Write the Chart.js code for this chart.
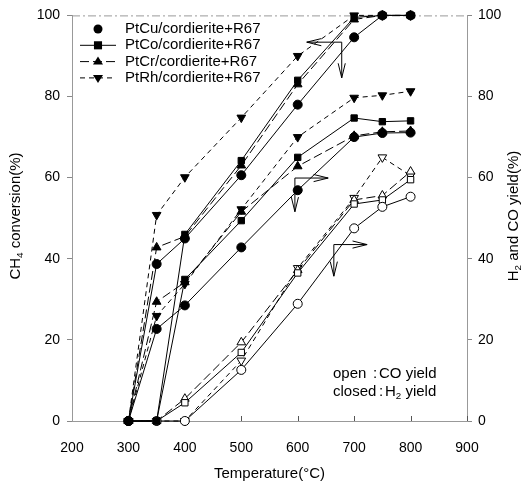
<!DOCTYPE html>
<html>
<head>
<meta charset="utf-8">
<script src="https://cdn.jsdelivr.net/npm/chart.js@4.4.1/dist/chart.umd.min.js"></script>
<style>
  html, body { margin: 0; padding: 0; background: #fff; }
</style>
</head>
<body>
<canvas id="chart" width="530" height="486"></canvas>
<script>
// values
var temps = [300, 350, 400, 500, 600, 700, 750, 800];
var catalysts = ['PtCu/cordierite+R67', 'PtCo/cordierite+R67', 'PtCr/cordierite+R67', 'PtRh/cordierite+R67'];

// CH4 conversion (left axis)
var ch4PtCu = [0, 38.7, 45, 60.6, 78, 94.6, 100, 100];
var ch4PtCo = [0, 0, 46, 64.2, 84, 99.5, 100, 100];
var ch4PtCr = [0, 42.8, 45.5, 63, 83, 99, 100, 100];
var ch4PtRh = [0, 50.8, 60.1, 74.8, 90, 100, 100, 100];
// H2 yield (right axis, closed)
var h2PtCu = [0, 22.7, 28.5, 42.8, 56.9, 70, 71, 71.1];
var h2PtCo = [0, 0, 34.9, 49.4, 65, 74.7, 73.8, 74];
var h2PtCr = [0, 29.4, 34.2, 51.6, 62.8, 70.3, 71.3, 71.5];
var h2PtRh = [0, 25.9, 33.8, 52.2, 70, 79.7, 80.3, 81.3];
// CO yield (right axis, open)
var coPtCu = [0, 0, 0, 12.6, 28.9, 47.5, 52.8, 55.3];
var coPtCo = [0, 0, 4.5, 16.9, 36.5, 53.5, 54.5, 59.5];
var coPtCr = [0, 0, 5.5, 19.4, 37.2, 54.5, 55.6, 61.5];
var coPtRh = [0, 0, 0, 14.9, 37.7, 55, 65, 60.5];

var xTicks = [200, 300, 400, 500, 600, 700, 800, 900];
var yTicks = [0, 20, 40, 60, 80, 100];

// arrows pointing groups at their axis, in data units [elbow, tip1, tip2]
var arrowUpper = [[678, 93.4], [616, 93.4], [678, 84.6]];
var arrowMiddle = [[595, 59.9], [654, 59.9], [595, 51.6]];
var arrowLower = [[664, 43.5], [723, 43.5], [664, 35.7]];

var FONT = "'Liberation Sans', Arial, sans-serif";

// look of each catalyst
var markers = ['circle', 'rect', 'triangle', 'triangle'];
var rotations = [0, 0, 0, 180];
var radii = [4.5, 4.5, 5, 5];
var dashes = [[], [], [9, 4], [5, 4]];

function pts(vals) {
    return vals.map(function (v, i) { return { x: temps[i], y: v }; });
}

var datasets = [];
var groups = [
    [ch4PtCu, ch4PtCo, ch4PtCr, ch4PtRh],
    [h2PtCu, h2PtCo, h2PtCr, h2PtRh],
    [coPtCu, coPtCo, coPtCr, coPtRh]
];
groups.forEach(function (group, g) {
    group.forEach(function (vals, k) {
        datasets.push({
            label: catalysts[k] + (g === 0 ? ' CH4' : g === 1 ? ' H2' : ' CO'),
            data: pts(vals),
            yAxisID: g === 0 ? 'y' : 'y2',
            borderColor: '#000',
            borderWidth: 1,
            borderDash: dashes[k],
            pointStyle: markers[k],
            rotation: rotations[k],
            pointRadius: radii[k],
            pointBorderWidth: 1,
            pointBorderColor: '#000',
            pointBackgroundColor: g === 2 ? '#fff' : '#000',
            tension: 0,
            clip: false
        });
    });
});

function marker(ctx, k, x, y) {
    var r = radii[k];
    ctx.save();
    ctx.fillStyle = '#000';
    ctx.setLineDash([]);
    ctx.beginPath();
    if (markers[k] === 'circle') {
        ctx.arc(x, y, r, 0, Math.PI * 2);
    } else if (markers[k] === 'rect') {
        ctx.rect(x - r * 0.9, y - r * 0.9, r * 1.8, r * 1.8);
    } else {
        var s = rotations[k] ? -1 : 1;
        ctx.moveTo(x, y - s * r);
        ctx.lineTo(x + r, y + s * r * 0.6);
        ctx.lineTo(x - r, y + s * r * 0.6);
        ctx.closePath();
    }
    ctx.fill();
    ctx.restore();
}

// text with subscript pieces: [[text, isSub], ...]
function subText(ctx, parts, x, y, size, align) {
    var w = 0;
    parts.forEach(function (p) {
        ctx.font = (p[1] ? size * 0.65 : size) + 'px ' + FONT;
        w += ctx.measureText(p[0]).width;
    });
    var cx = align === 'center' ? x - w / 2 : x;
    parts.forEach(function (p) {
        ctx.font = (p[1] ? size * 0.65 : size) + 'px ' + FONT;
        ctx.fillText(p[0], cx, p[1] ? y + size * 0.28 : y);
        cx += ctx.measureText(p[0]).width;
    });
}

function arrow(ctx, xs, ys, a) {
    var e = [xs.getPixelForValue(a[0][0]), ys.getPixelForValue(a[0][1])];
    ctx.beginPath();
    for (var i = 1; i < 3; i++) {
        var t = [xs.getPixelForValue(a[i][0]), ys.getPixelForValue(a[i][1])];
        ctx.moveTo(e[0], e[1]);
        ctx.lineTo(t[0], t[1]);
        var ang = Math.atan2(t[1] - e[1], t[0] - e[0]);
        var L = 15, W = 0.24;
        ctx.moveTo(t[0] - L * Math.cos(ang - W), t[1] - L * Math.sin(ang - W));
        ctx.lineTo(t[0], t[1]);
        ctx.lineTo(t[0] - L * Math.cos(ang + W), t[1] - L * Math.sin(ang + W));
    }
    ctx.stroke();
}

var decor = {
    id: 'decor',
    beforeDatasetsDraw: function (chart) {
        var ctx = chart.ctx, a = chart.chartArea, xs = chart.scales.x;
        ctx.save();
        // top frame, dashed like the rest
        ctx.strokeStyle = '#999';
        ctx.lineWidth = 1;
        ctx.setLineDash([8, 3, 2, 3]);
        ctx.beginPath();
        ctx.moveTo(a.left, a.top + 0.5);
        ctx.lineTo(a.right, a.top + 0.5);
        ctx.stroke();
        // inward ticks on bottom axis
        ctx.setLineDash([]);
        ctx.strokeStyle = '#555';
        ctx.beginPath();
        xTicks.slice(1).forEach(function (v) {
            var px = Math.round(xs.getPixelForValue(v)) + 0.5;
            ctx.moveTo(px, a.bottom);
            ctx.lineTo(px, a.bottom - 5);
        });
        ctx.stroke();
        ctx.restore();
    },
    afterDraw: function (chart) {
        var ctx = chart.ctx, a = chart.chartArea;
        var xs = chart.scales.x, yl = chart.scales.y;
        ctx.save();
        ctx.fillStyle = '#000';
        ctx.strokeStyle = '#000';
        ctx.lineWidth = 1;

        // axis titles
        ctx.textBaseline = 'middle';
        ctx.font = '15px ' + FONT;
        ctx.textAlign = 'center';
        ctx.fillText('Temperature(\u00B0C)', (a.left + a.right) / 2, 474);
        ctx.textAlign = 'left';
        ctx.save();
        ctx.translate(16, 216);
        ctx.rotate(-Math.PI / 2);
        subText(ctx, [['CH', 0], ['4', 1], [' conversion(%)', 0]], 0, 0, 15, 'center');
        ctx.restore();
        ctx.save();
        ctx.translate(514, 216);
        ctx.rotate(-Math.PI / 2);
        subText(ctx, [['H', 0], ['2', 1], [' and CO yield(%)', 0]], 0, 0, 15, 'center');
        ctx.restore();

        // legend
        catalysts.forEach(function (name, k) {
            var y = 29 + k * 16.3;
            if (k > 0) {
                ctx.save();
                ctx.setLineDash(dashes[k]);
                ctx.beginPath();
                ctx.moveTo(80, y);
                ctx.lineTo(116, y);
                ctx.stroke();
                ctx.restore();
            }
            marker(ctx, k, 98, y);
            ctx.font = '15px ' + FONT;
            ctx.fillText(name, 125, y);
        });

        // note
        ctx.font = '15px ' + FONT;
        ctx.fillText('open', 333, 374);
        ctx.fillText(':', 373, 374);
        ctx.fillText('CO yield', 379, 374);
        ctx.fillText('closed', 333, 392);
        ctx.fillText(':', 379, 392);
        subText(ctx, [['H', 0], ['2', 1], [' yield', 0]], 385, 392, 15, 'left');

        // arrows
        ctx.setLineDash([]);
        [arrowUpper, arrowMiddle, arrowLower].forEach(function (ar) {
            arrow(ctx, xs, yl, ar);
        });
        ctx.restore();
    }
};

var ctx = document.getElementById('chart').getContext('2d');
var myChart = new Chart(ctx, {
    type: 'line',
    data: { datasets: datasets },
    options: {
        responsive: false,
        animation: false,
        layout: { padding: { top: 12, left: 0, right: 0, bottom: 0 } },
        plugins: {
            legend: { display: false },
            tooltip: { enabled: false }
        },
        scales: {
            x: {
                type: 'linear',
                min: 200,
                max: 900,
                afterFit: function (s) { s.height = 65; },
                afterBuildTicks: function (s) { s.ticks = xTicks.map(function (v) { return { value: v }; }); },
                grid: { display: false },
                border: { display: true, color: '#999', dash: [8, 3, 2, 3] },
                ticks: { color: '#000', padding: 11, font: { family: FONT, size: 14 }, maxRotation: 0 }
            },
            y: {
                position: 'left',
                min: 0,
                max: 100,
                afterFit: function (s) { s.width = 72; },
                afterBuildTicks: function (s) { s.ticks = yTicks.map(function (v) { return { value: v }; }); },
                grid: { display: true, drawOnChartArea: false, tickLength: 5, color: '#888' },
                border: { display: true, color: '#999', dash: [8, 3, 2, 3] },
                ticks: { color: '#000', padding: 7, font: { family: FONT, size: 14 } }
            },
            y2: {
                position: 'right',
                min: 0,
                max: 100,
                afterFit: function (s) { s.width = 63; },
                afterBuildTicks: function (s) { s.ticks = yTicks.map(function (v) { return { value: v }; }); },
                grid: { display: true, drawOnChartArea: false, tickLength: 5, color: '#888' },
                border: { display: true, color: '#999' },
                ticks: { color: '#000', padding: 6, font: { family: FONT, size: 14 } }
            }
        }
    },
    plugins: [decor]
});
</script>
</body>
</html>
